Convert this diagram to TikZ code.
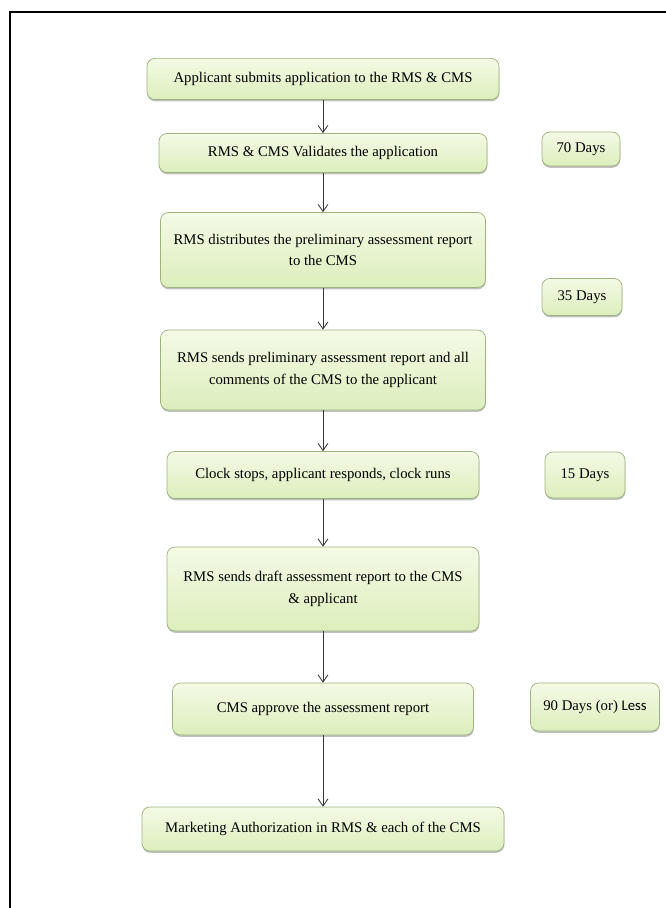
\documentclass[tikz,border=0pt]{standalone}
\usepackage{fontspec}
\setmainfont{Liberation Serif}
\newfontfamily\lessfont{Carlito}
\usepackage{xcolor}
\usepackage{tikz}
\usetikzlibrary{arrows.meta, positioning, shadows}
\definecolor{boxtop}{RGB}{244,250,230}
\definecolor{boxbot}{RGB}{220,238,188}
\definecolor{boxline}{RGB}{158,178,126}
\definecolor{arrowgray}{RGB}{55,55,55}
\tikzstyle{stepbox} = [rectangle, rounded corners=0.2cm, text centered, align=center, draw=boxline, line width=0.5pt, top color=boxtop, bottom color=boxbot, drop shadow={shadow xshift=0.2pt, shadow yshift=-1.3pt, fill=black!45, opacity=0.55}, font=\fontsize{10.5}{15.5}\selectfont]
\tikzstyle{daysbox} = [stepbox, minimum height=0.9cm]
\tikzstyle{arrow} = [draw=arrowgray, line width=0.6pt, -{Straight Barb[length=5pt, width=7pt]}]

\begin{document}
\begin{tikzpicture}[node distance=3cm]
        \useasboundingbox (0,0) rectangle (16.625,-22.7);
        \draw [line width=1.3pt] (0.25,-22.8) -- (0.25,-0.3) -- (16.8,-0.3);

        \node (b1) [stepbox, minimum width=8.8cm, minimum height=1.03cm] at (8.075,-1.975) {Applicant submits application to the RMS \& CMS};
        \node (b2) [stepbox, below of=b1, yshift=1.15cm, minimum width=8.2cm, minimum height=0.975cm] {RMS \& CMS Validates the application};
        \node (b3) [stepbox, below of=b2, yshift=0.575cm, minimum width=8.125cm, minimum height=1.875cm] {RMS distributes the preliminary assessment report\\to the CMS};
        \node (b4) [stepbox, below of=b3, minimum width=8.125cm, minimum height=2cm] {RMS sends preliminary assessment report and all\\comments of the CMS to the applicant};
        \node (b5) [stepbox, below of=b4, yshift=0.375cm, minimum width=7.8cm, minimum height=1.175cm] {Clock stops, applicant responds, clock runs};
        \node (b6) [stepbox, below of=b5, yshift=0.15cm, minimum width=7.8cm, minimum height=2.1cm] {RMS sends draft assessment report to the CMS\\\& applicant};
        \node (b7) [stepbox, below of=b6, minimum width=7.525cm, minimum height=1.3cm] {CMS approve the assessment report};
        \node (b8) [stepbox, below of=b7, minimum width=9.05cm, minimum height=1.1cm] {Marketing Authorization in RMS \& each of the CMS};

        \node (d1) [daysbox, right of=b2, xshift=3.45cm, yshift=0.1cm, minimum width=1.95cm, minimum height=0.85cm] {70 Days};
        \node (d2) [daysbox, right of=b3, xshift=3.475cm, yshift=-1.175cm, minimum width=2cm, minimum height=0.925cm] {35 Days};
        \node (d3) [daysbox, right of=b5, xshift=3.55cm, minimum width=2cm, minimum height=1.15cm] {15 Days};
        \node (d4) [daysbox, right of=b7, xshift=3.8cm, yshift=0.05cm, minimum width=3.225cm, minimum height=1.2cm] {90 Days (or) {\lessfont Less}};

        \draw [arrow] (b1) -- (b2);
        \draw [arrow] (b2) -- (b3);
        \draw [arrow] (b3) -- (b4);
        \draw [arrow] (b4) -- (b5);
        \draw [arrow] (b5) -- (b6);
        \draw [arrow] (b6) -- (b7);
        \draw [arrow] (b7) -- (b8);
    \end{tikzpicture}
\end{document}
